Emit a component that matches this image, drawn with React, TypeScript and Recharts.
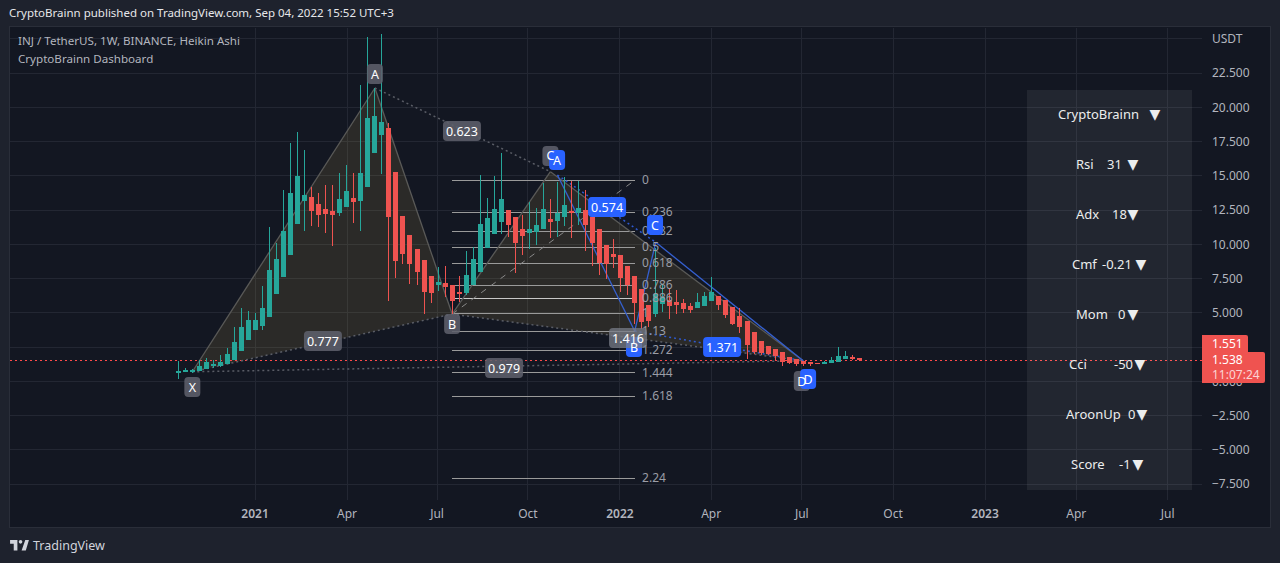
import {
  Area,
  Bar,
  CartesianGrid,
  ComposedChart,
  ReferenceDot,
  ReferenceLine,
  XAxis,
  YAxis,
} from "recharts";

const FONT = '"Noto Sans", sans-serif';
const GREEN = "#26a69a";
const RED = "#ef5350";
const BLUE = "#2962ff";

const opens = [0.63,0.70,0.65,0.75,0.90,1.11,1.11,1.26,1.55,2.21,3.01,3.74,4.03,4.69,6.37,7.61,9.22,11.48,13.16,13.45,12.94,12.57,12.43,12.28,12.72,13.38,13.16,14.18,16.66,17.98,18.49,15.27,12.06,10.68,9.65,8.85,7.68,7.03,7.17,7.03,6.52,6.44,7.03,7.97,9.73,10.75,11.62,12.50,11.97,11.11,10.82,10.92,11.11,11.84,11.70,11.99,12.43,12.28,12.50,11.97,11.11,9.95,9.29,9.22,8.41,7.68,6.73,5.57,4.91,5.66,5.93,5.78,5.71,5.49,5.35,5.49,5.88,6.22,5.93,5.42,4.74,4.40,3.59,2.94,2.57,2.35,2.14,1.77,1.62,1.50,1.41,1.36,1.28,1.36,1.41,1.62,1.77,1.67];
const highs = [1.50,0.94,0.92,1.55,1.67,1.55,1.89,2.40,3.94,5.32,5.10,4.96,6.95,11.26,10.07,13.96,17.37,18.19,16.88,14.20,13.74,14.33,14.33,15.20,15.79,15.20,21.63,25.13,21.41,25.35,18.83,15.27,12.06,10.68,9.65,8.85,7.68,8.34,8.41,7.03,7.68,9.51,9.82,15.06,13.38,14.98,16.66,12.50,11.97,12.11,13.08,12.65,14.47,13.30,14.57,14.88,14.59,14.59,13.96,12.94,11.11,9.95,10.38,9.22,8.41,7.68,6.73,5.57,9.70,7.10,6.83,6.66,6.00,5.69,6.42,6.54,7.61,6.22,5.93,5.42,5.32,4.40,3.59,2.94,2.57,2.35,2.14,1.77,1.62,1.50,1.41,1.36,1.45,1.77,2.50,2.21,1.92,1.70];
const lows = [0.17,0.68,0.63,0.73,0.87,0.97,1.07,1.24,1.53,2.19,2.99,3.74,3.74,4.69,6.35,7.61,9.22,11.48,10.97,11.33,11.26,10.82,9.87,12.06,12.72,11.55,10.97,14.18,16.66,15.13,5.86,7.54,8.56,7.10,7.03,4.91,5.71,6.59,6.15,4.91,5.81,6.30,7.03,7.97,9.73,10.75,10.75,10.53,7.93,9.22,9.65,9.95,11.11,10.46,10.55,11.33,10.46,11.41,9.53,8.41,7.76,7.46,8.27,6.52,6.30,4.18,3.81,3.96,4.71,5.05,4.54,4.91,4.96,4.96,5.35,5.49,5.88,5.20,4.59,4.11,3.52,1.60,1.99,1.92,1.89,1.55,1.11,1.26,1.11,1.11,1.14,1.26,1.28,1.36,1.41,1.62,1.55,1.50];
const closes = [0.75,0.82,0.82,1.11,1.41,1.26,1.41,1.99,2.84,3.94,4.47,4.47,5.32,8.12,8.92,10.97,13.74,14.98,13.60,12.43,12.14,12.21,12.14,13.30,13.89,13.09,15.20,19.22,19.36,18.92,11.99,8.78,9.29,8.56,7.98,6.52,6.44,7.25,6.88,5.86,6.37,7.76,8.92,11.48,11.92,12.57,13.30,11.41,10.09,10.60,11.11,11.41,12.57,11.62,12.28,12.87,12.31,12.65,11.41,10.09,8.61,8.56,9.07,7.54,7.00,5.71,4.33,4.40,6.37,6.15,5.49,5.57,5.27,5.20,5.78,6.22,6.51,5.57,4.84,4.18,3.96,2.65,2.14,2.06,1.99,1.84,1.41,1.33,1.26,1.26,1.28,1.28,1.41,1.55,1.84,1.84,1.62,1.54];

const candles = opens.map((o, i) => ({ i, o, h: highs[i], l: lows[i], c: closes[i] }));

const priceTicks = [25, 22.5, 20, 17.5, 15, 12.5, 10, 7.5, 5, 2.5, 0, -2.5, -5, -7.5];
const timeTicks = [10.93, 24.03, 36.85, 49.8, 62.9, 75.9, 88.8, 101.8, 114.9, 127.9, 140.9];
const timeLabels = ["2021", "Apr", "Jul", "Oct", "2022", "Apr", "Jul", "Oct", "2023", "Apr", "Jul"];

const fibNames = ["0", "0.236", "0.382", "0.5", "0.618", "0.786", "0.886", "1", "1.13", "1.272", "1.444", "1.618", "2.24"];
const fibPrices = [14.67, 12.36, 10.95, 9.78, 8.61, 7.01, 6.06, 4.96, 3.65, 2.26, 0.63, -1.07, -7.06];

// gray pattern pivots and blue pattern pivots, bar index and price
const X = { x: 2, y: 0.7 };
const A = { x: 28, y: 21.41 };
const B = { x: 39, y: 4.91 };
const C = { x: 53, y: 15.3 };
const D = { x: 89, y: 1.5 };
const A2 = { x: 54, y: 15.06 };
const B2 = { x: 65, y: 3.67 };
const C2 = { x: 68, y: 10.15 };
const D2 = { x: 89, y: 1.5 };

const wedgeLeft = [
  { i: 2, r: [0.7, 0.7] },
  { i: 28, r: [3.66, 21.41] },
  { i: 39, r: [4.91, 4.91] },
];
const wedgeRight = [
  { i: 39, r: [4.91, 4.91] },
  { i: 53, r: [3.955, 15.3] },
  { i: 89, r: [1.5, 1.5] },
];

const GRAY_BOX = "#5d606be0";
const labels = [
  { t: "X", x: 2, y: -0.42, bg: GRAY_BOX },
  { t: "A", x: 28, y: 22.43, bg: GRAY_BOX },
  { t: "B", x: 39, y: 4.18, bg: GRAY_BOX },
  { t: "C", x: 53, y: 16.45, bg: GRAY_BOX },
  { t: "D", x: 88.8, y: 0.02, bg: GRAY_BOX },
  { t: "0.777", x: 20.6, y: 2.94, bg: GRAY_BOX },
  { t: "0.623", x: 40.4, y: 18.27, bg: GRAY_BOX },
  { t: "0.979", x: 46.4, y: 0.97, bg: GRAY_BOX },
  { t: "A", x: 53.95, y: 16.15, bg: BLUE },
  { t: "B", x: 64.9, y: 2.5, bg: BLUE },
  { t: "C", x: 67.9, y: 11.41, bg: BLUE },
  { t: "D", x: 89.7, y: 0.17, bg: BLUE },
  { t: "0.574", x: 61.07, y: 12.72, bg: BLUE },
  { t: "1.371", x: 77.45, y: 2.5, bg: BLUE },
  { t: "1.416", x: 64.05, y: 3.16, bg: "#787b86c0" },
];

const dashNames = ["CryptoBrainn", "Rsi", "Adx", "Cmf", "Mom", "Cci", "AroonUp", "Score"];
const dashValues = ["", "31", "18", "-0.21", "0", "-50", "0", "-1"];
const dashNameX = [1058, 1076, 1076, 1072, 1076, 1069, 1066, 1071];
const dashValueX = [0, 1107, 1112, 1102, 1118, 1114, 1128, 1119];
const dashArrowX = [1155, 1133, 1133, 1141, 1133, 1140, 1142, 1138];

const Candle = (props: any) => {
  const { x, y, width, height, payload } = props;
  const { o, h, l, c } = payload;
  const color = c >= o ? GREEN : RED;
  const perUnit = height / (h - l || 1);
  const top = y + (h - Math.max(o, c)) * perUnit;
  const bodyH = Math.max(Math.abs(o - c) * perUnit, 1);
  const left = Math.round(x);
  return (
    <g shapeRendering="crispEdges">
      <rect x={left + 2} y={y} width={1} height={height} fill={color} />
      <rect x={left} y={top} width={width} height={bodyH} fill={color} />
    </g>
  );
};

const labelBox = (text: string, bg: string) => (props: any) => {
  const { cx, cy } = props;
  const w = text.length > 1 ? 38 : 16;
  return <rect x={cx - w / 2} y={cy - 10} width={w} height={20} rx={4} fill={bg} />;
};

const labelText = (text: string) => (props: any) => (
  <text x={props.cx} y={props.cy + 4.5} textAnchor="middle" fontSize={12.5} fontFamily={FONT} fill="#ffffff">
    {text}
  </text>
);

const fibText = (text: string) => (props: any) => (
  <text x={props.cx} y={props.cy + 4} fontSize={12} fontFamily={FONT} fill="#9a9da6">
    {text}
  </text>
);

const TimeTick = (props: any) => {
  const { x, y, index } = props;
  const label = timeLabels[index];
  return (
    <text
      x={x}
      y={y + 10}
      textAnchor="middle"
      fontSize={12}
      fontFamily={FONT}
      fontWeight={label.length === 4 ? 600 : 400}
      fill="#b2b5be"
    >
      {label}
    </text>
  );
};

const GRAY_LINE = "#5a5a58";
const DOTTED = "#5a5d66";
const UNDER = 150;

const dashText = (left: number, top: number) => ({
  position: "absolute" as const,
  left,
  top,
  color: "#eceded",
  fontSize: 13,
  lineHeight: "18px",
  whiteSpace: "pre" as const,
});

export default function App() {
  return (
    <div style={{ position: "absolute", left: 0, top: 0, width: 1280, height: 563, background: "#1e222d", overflow: "hidden", fontFamily: FONT }}>
      <div style={{ position: "absolute", left: 9, top: 5, color: "#e6e7ea", fontSize: 11.5, whiteSpace: "pre" }}>
        CryptoBrainn published on TradingView.com, Sep 04, 2022 15:52 UTC+3
      </div>
      <div style={{ position: "absolute", left: 9, top: 26, width: 1260, height: 500, background: "#131722", border: "1px solid #2a2e39" }} />

      <div style={{ position: "absolute", left: 0, top: 0 }}>
        <ComposedChart
          width={1280}
          height={563}
          data={candles}
          margin={{ top: 28, right: 10, bottom: 36, left: 10 }}
        >
          <CartesianGrid stroke="#232733" strokeWidth={1} shapeRendering="crispEdges" syncWithTicks />
          <XAxis
            dataKey="i"
            type="number"
            scale="linear"
            domain={[-23.97, 145.8]}
            ticks={timeTicks}
            interval={0}
            height={27}
            axisLine={false}
            tickLine={false}
            allowDataOverflow
            tick={<TimeTick />}
          />
          <YAxis
            orientation="right"
            type="number"
            domain={[-8.66, 25.79]}
            ticks={priceTicks}
            interval={0}
            width={68}
            axisLine={false}
            tickLine={false}
            allowDataOverflow
            tickMargin={4}
            tick={{ fill: "#b2b5be", fontSize: 12, fontFamily: FONT, textAnchor: "start" }}
            tickFormatter={(v: number) =>
              v === 25 ? "USDT" : (v < 0 ? "\u2212" : "") + Math.abs(v).toFixed(3)
            }
          />

          <Area data={wedgeLeft} dataKey="r" type="linear" stroke="none" fill="#ffdc5e" fillOpacity={0.1} isAnimationActive={false} />
          <Area data={wedgeRight} dataKey="r" type="linear" stroke="none" fill="#ffdc5e" fillOpacity={0.1} isAnimationActive={false} />

          {fibPrices.map((p, i) => (
            <ReferenceLine key={"f" + i} zIndex={UNDER} segment={[{ x: 39, y: p }, { x: 65, y: p }]} stroke={i === 6 ? "#c8c8c8" : "#9a9a9a"} strokeWidth={1} shapeRendering="crispEdges" />
          ))}
          <ReferenceLine zIndex={UNDER} segment={[{ x: 39, y: 4.91 }, { x: 65, y: 14.67 }]} stroke="#8a8a8a" strokeDasharray="6 6" />

          <ReferenceLine zIndex={UNDER} y={1.538} stroke="#ff4a4a" strokeDasharray="2 3" shapeRendering="crispEdges" />

          <ReferenceLine zIndex={UNDER} segment={[X, A]} stroke={GRAY_LINE} strokeWidth={1.3} />
          <ReferenceLine zIndex={UNDER} segment={[A, B]} stroke={GRAY_LINE} strokeWidth={1.3} />
          <ReferenceLine zIndex={UNDER} segment={[B, C]} stroke={GRAY_LINE} strokeWidth={1.3} />
          <ReferenceLine zIndex={UNDER} segment={[C, D]} stroke={GRAY_LINE} strokeWidth={1.3} />
          <ReferenceLine zIndex={UNDER} segment={[X, B]} stroke={DOTTED} strokeWidth={1.5} strokeDasharray="2 3" />
          <ReferenceLine zIndex={UNDER} segment={[A, C]} stroke={DOTTED} strokeWidth={1.5} strokeDasharray="2 3" />
          <ReferenceLine zIndex={UNDER} segment={[B, D]} stroke={DOTTED} strokeWidth={1.5} strokeDasharray="2 3" />
          <ReferenceLine zIndex={UNDER} segment={[X, D]} stroke={DOTTED} strokeWidth={1.5} strokeDasharray="2 3" />

          <ReferenceLine zIndex={UNDER} segment={[A2, B2]} stroke="#3560d0" strokeWidth={1.3} />
          <ReferenceLine zIndex={UNDER} segment={[B2, C2]} stroke="#3560d0" strokeWidth={1.3} />
          <ReferenceLine zIndex={UNDER} segment={[C2, D2]} stroke="#3560d0" strokeWidth={1.3} />
          <ReferenceLine zIndex={UNDER} segment={[A2, C2]} stroke="#2f5ad0" strokeWidth={1.5} strokeDasharray="2 3" />
          <ReferenceLine zIndex={UNDER} segment={[B2, D2]} stroke="#2f5ad0" strokeWidth={1.5} strokeDasharray="2 3" />

          <Bar dataKey={(d: any) => [d.l, d.h]} barSize={5} shape={<Candle />} isAnimationActive={false} />

          {fibPrices.map((p, i) => (
            <ReferenceDot key={"t" + i} x={66.05} y={p} shape={fibText(fibNames[i])} />
          ))}
          {labels.map((l, i) => (
            <ReferenceDot key={"b" + i} x={l.x} y={l.y} shape={labelBox(l.t, l.bg)} />
          ))}
          {labels.map((l, i) => (
            <ReferenceDot key={"l" + i} x={l.x} y={l.y} shape={labelText(l.t)} />
          ))}
        </ComposedChart>
      </div>

      <div style={{ position: "absolute", left: 18, top: 32, color: "#b2b5be", fontSize: 11.6, lineHeight: "18px", whiteSpace: "pre" }}>
        {"INJ / TetherUS, 1W, BINANCE, Heikin Ashi\nCryptoBrainn Dashboard"}
      </div>

      <div style={{ position: "absolute", left: 1027, top: 90, width: 165, height: 400, background: "rgba(255,255,255,0.065)" }} />
      {dashNames.map((name, i) => (
        <div key={name}>
          <div style={dashText(dashNameX[i], 105 + i * 50)}>{name}</div>
          {dashValues[i] && <div style={dashText(dashValueX[i], 105 + i * 50)}>{dashValues[i]}</div>}
          <div style={{ ...dashText(dashArrowX[i] - 5.5, 105 + i * 50), fontFamily: '"DejaVu Sans"', fontSize: 14 }}>{"\u25BC"}</div>
        </div>
      ))}

      <div style={{ position: "absolute", left: 1202, top: 335, width: 46, height: 17, background: RED, color: "#fff", fontSize: 12, lineHeight: "17px", paddingLeft: 10, boxSizing: "border-box", borderRadius: "0 2px 0 0" }}>
        1.551
      </div>
      <div style={{ position: "absolute", left: 1202, top: 352, width: 63, height: 31, background: RED, color: "#fff", fontSize: 12, lineHeight: "15px", paddingLeft: 10, boxSizing: "border-box", borderRadius: "0 2px 2px 0" }}>
        1.538
        <br />
        <span style={{ color: "#fbd5d4" }}>11:07:24</span>
      </div>

      <svg style={{ position: "absolute", left: 10, top: 540 }} width={19} height={11} viewBox="0 0 36 21">
        <path fill="#d1d4dc" d="M14 0H0v7h7v13h7V0zm16 20h-8l7-20h7l-6 20zM20 7a3.5 3.5 0 1 0 0-7 3.5 3.5 0 0 0 0 7z" />
      </svg>
      <div style={{ position: "absolute", left: 33, top: 537, color: "#d1d4dc", fontSize: 12.5 }}>TradingView</div>
    </div>
  );
}
